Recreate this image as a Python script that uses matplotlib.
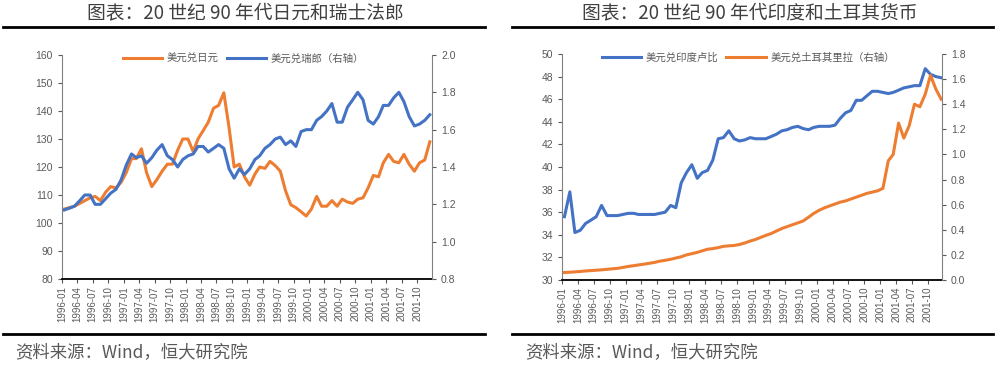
from matplotlib.lines import Line2D
from matplotlib import pyplot as plt
import matplotlib.dates as mdates
import pandas as pd

# Monthly readings (mid-month) from the reference picture.
months = pd.date_range('1996-01-01', periods=72, freq='MS') + pd.Timedelta(days=14)

usd_jpy = [105.0, 105.5, 106.0, 107.0, 108.0, 109.0, 109.5, 108.0, 111.0, 113.0, 112.5, 114.5,
           118.0, 123.0, 123.0, 126.5, 118.0, 113.0, 115.5, 118.5, 121.0, 121.0, 126.0, 130.0,
           130.0, 125.5, 130.0, 133.0, 136.0, 141.0, 142.0, 146.5, 134.0, 120.0, 121.0, 116.5,
           113.5, 117.5, 120.0, 119.5, 122.0, 120.5, 118.5, 111.5, 106.5, 105.5, 104.0, 102.5,
           105.0, 109.5, 106.0, 106.0, 108.0, 106.0, 108.5, 107.5, 107.0, 108.5, 109.0, 112.5,
           117.0, 116.5, 121.5, 124.5, 122.0, 121.5, 124.5, 121.0, 118.5, 121.5, 122.5, 129.0]

usd_chf = [1.17, 1.18, 1.19, 1.22, 1.25, 1.25, 1.20, 1.20, 1.23, 1.26, 1.28, 1.33,
           1.41, 1.47, 1.45, 1.46, 1.42, 1.45, 1.49, 1.52, 1.46, 1.44, 1.40, 1.44,
           1.46, 1.47, 1.51, 1.51, 1.48, 1.50, 1.52, 1.50, 1.39, 1.34, 1.39, 1.36,
           1.39, 1.44, 1.46, 1.50, 1.52, 1.55, 1.56, 1.52, 1.54, 1.51, 1.59, 1.60,
           1.60, 1.65, 1.67, 1.70, 1.74, 1.64, 1.64, 1.72, 1.76, 1.80, 1.76, 1.65,
           1.63, 1.67, 1.73, 1.73, 1.77, 1.80, 1.75, 1.67, 1.62, 1.63, 1.65, 1.68]

usd_inr = [35.6, 37.8, 34.2, 34.4, 35.0, 35.3, 35.6, 36.6, 35.7, 35.7, 35.7, 35.8,
           35.9, 35.9, 35.8, 35.8, 35.8, 35.8, 35.9, 36.0, 36.6, 36.4, 38.6, 39.5,
           40.2, 39.0, 39.5, 39.7, 40.6, 42.5, 42.6, 43.2, 42.5, 42.3, 42.4, 42.6,
           42.5, 42.5, 42.5, 42.7, 42.9, 43.2, 43.3, 43.5, 43.6, 43.4, 43.3, 43.5,
           43.6, 43.6, 43.6, 43.7, 44.3, 44.8, 45.0, 45.9, 45.9, 46.3, 46.7, 46.7,
           46.6, 46.5, 46.6, 46.8, 47.0, 47.1, 47.2, 47.2, 48.7, 48.2, 48.0, 47.9]

usd_try = [0.060, 0.062, 0.065, 0.068, 0.072, 0.075, 0.078, 0.081, 0.085, 0.089, 0.093, 0.100,
           0.108, 0.114, 0.120, 0.126, 0.133, 0.140, 0.150, 0.157, 0.165, 0.175, 0.185, 0.200,
           0.210, 0.220, 0.232, 0.245, 0.250, 0.258, 0.268, 0.272, 0.275, 0.283, 0.295, 0.310,
           0.323, 0.340, 0.355, 0.370, 0.390, 0.410, 0.425, 0.440, 0.455, 0.470, 0.500, 0.530,
           0.555, 0.575, 0.590, 0.605, 0.620, 0.630, 0.645, 0.660, 0.675, 0.690, 0.700, 0.710,
           0.730, 0.950, 1.000, 1.250, 1.130, 1.230, 1.400, 1.380, 1.480, 1.630, 1.520, 1.440]

cjk = ['Noto Sans CJK SC', 'DejaVu Sans']
tick_font = 'Liberation Sans'
orange = '#ED7D31'
blue = '#4472C4'
grey_text = '#595959'

fig = plt.figure(figsize=(9.96, 3.68), dpi=100)

def style_axes(ax, ax2):
    ax.spines['top'].set_visible(False)
    ax2.spines['top'].set_visible(False)
    ax.spines['left'].set_color('#808080')
    ax2.spines['right'].set_color('#808080')
    ax2.spines['left'].set_visible(False)
    ax2.spines['bottom'].set_visible(False)
    ax.spines['right'].set_visible(False)
    ax.spines['bottom'].set_color('black')
    ax.spines['bottom'].set_linewidth(1.3)
    ax.xaxis.set_major_locator(mdates.MonthLocator(bymonth=[1, 4, 7, 10]))
    ax.xaxis.set_major_formatter(mdates.DateFormatter('%Y-%m'))
    ax.tick_params(axis='x', rotation=90, labelsize=7, colors=grey_text,
                   length=3, pad=2)
    ax.tick_params(axis='y', labelsize=7.5, colors=grey_text, length=3)
    ax2.tick_params(axis='y', labelsize=7.5, colors=grey_text, length=3)
    for label in ax.get_xticklabels() + ax.get_yticklabels() + ax2.get_yticklabels():
        label.set_fontfamily(tick_font)
        label.set_color(grey_text)

def add_legend(ax, handles, x):
    leg = ax.legend(handles=handles, loc='upper center', bbox_to_anchor=(x, 1.05),
                    ncol=2, frameon=False, handlelength=3.8, columnspacing=0.8,
                    handletextpad=0.4, prop={'family': cjk, 'size': 7.5})
    for text in leg.get_texts():
        text.set_color(grey_text)

# Left chart: yen and Swiss franc.
ax = fig.add_axes([62/996, 1 - 279/368, 370/996, 224/368])
ax2 = ax.twinx()
l1, = ax.plot(months, usd_jpy, color=orange, lw=2.2, label='美元兑日元')
l2, = ax2.plot(months, usd_chf, color=blue, lw=2.2, label='美元兑瑞郎（右轴）')
ax.set_ylim(80, 160)
ax.set_yticks(range(80, 161, 10))
ax2.set_ylim(0.8, 2.0)
ax2.set_yticks([0.8, 1.0, 1.2, 1.4, 1.6, 1.8, 2.0])
ax2.yaxis.set_major_formatter(plt.FormatStrFormatter('%.1f'))
ax.set_xlim(pd.Timestamp('1996-01-01'), pd.Timestamp('2001-12-28'))
style_axes(ax, ax2)
add_legend(ax, [l1, l2], 0.49)

# Right chart: rupee and lira.
bx = fig.add_axes([562/996, 1 - 280/368, 380/996, 226/368])
bx2 = bx.twinx()
r1, = bx.plot(months, usd_inr, color=blue, lw=2.2, label='美元兑印度卢比')
r2, = bx2.plot(months, usd_try, color=orange, lw=2.2, label='美元兑土耳其里拉（右轴）')
bx.set_ylim(30, 50)
bx.set_yticks(range(30, 51, 2))
bx2.set_ylim(0, 1.8)
bx2.set_yticks([0.0, 0.2, 0.4, 0.6, 0.8, 1.0, 1.2, 1.4, 1.6, 1.8])
bx2.yaxis.set_major_formatter(plt.FormatStrFormatter('%.1f'))
bx.set_xlim(pd.Timestamp('1996-01-01'), pd.Timestamp('2001-12-20'))
style_axes(bx, bx2)
add_legend(bx, [r1, r2], 0.49)

# Titles, rules and source notes.
fig.text(245/996, 1 - 13/368, '图表：20 世纪 90 年代日元和瑞士法郎', ha='center', va='center',
         fontsize=13.5, family=cjk, color='#404040')
fig.text(750/996, 1 - 13/368, '图表：20 世纪 90 年代印度和土耳其货币', ha='center', va='center',
         fontsize=13.5, family=cjk, color='#404040')
for x0, x1 in [(3, 485), (512, 993)]:
    for y in [27, 334]:
        fig.add_artist(Line2D([x0/996, x1/996], [1 - y/368] * 2, color='black', lw=2))
fig.text(15/996, 1 - 352/368, '资料来源：Wind，恒大研究院', ha='left', va='center',
         fontsize=12.5, family=cjk, color='#595959', style='italic')
fig.text(525/996, 1 - 352/368, '资料来源：Wind，恒大研究院', ha='left', va='center',
         fontsize=12.5, family=cjk, color='#595959', style='italic')

plt.savefig('out.png', dpi=100)
